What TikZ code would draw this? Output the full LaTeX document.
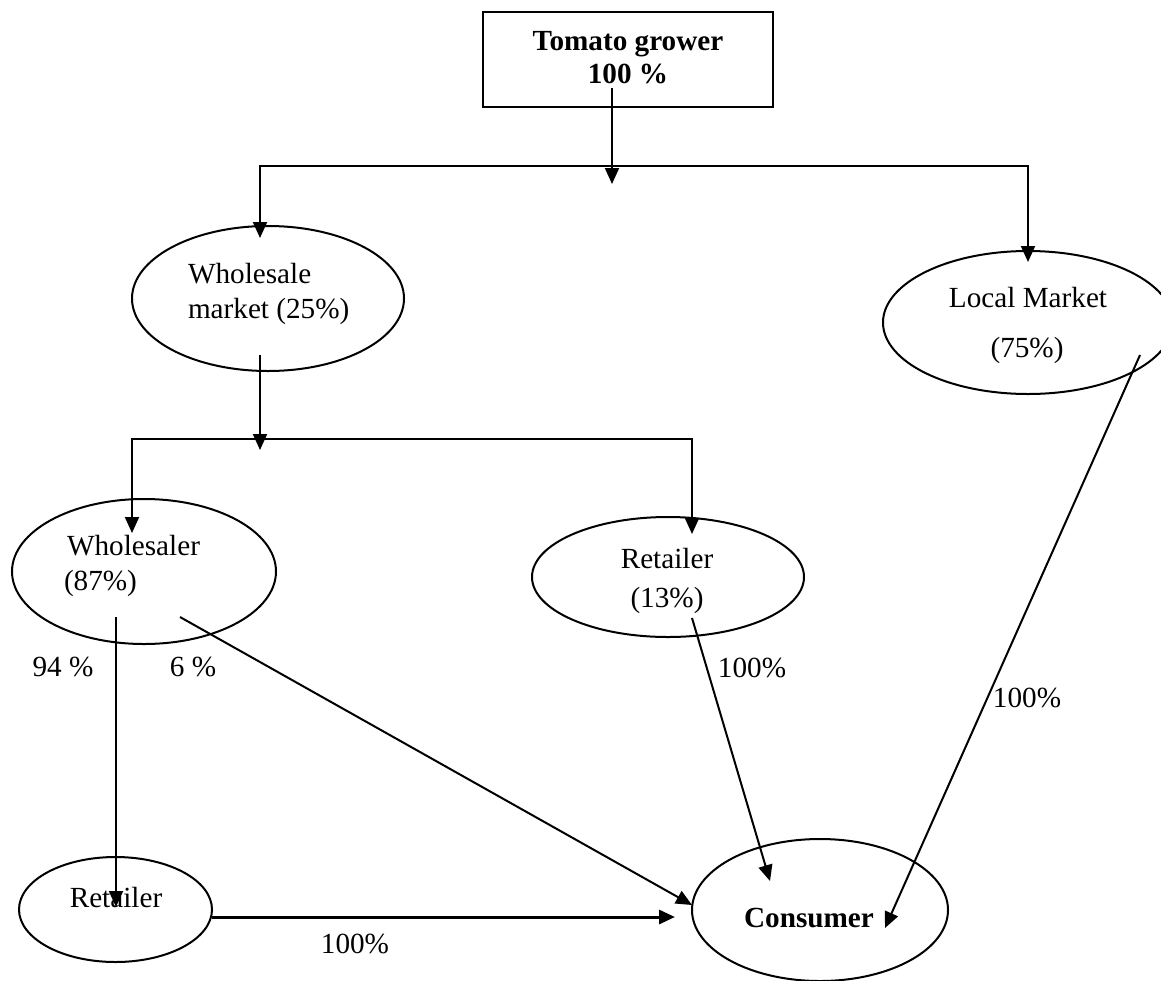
\documentclass[tikz,border=0pt]{standalone}
\usepackage{fontspec}
\setmainfont{Liberation Serif}
\usetikzlibrary{arrows.meta,shapes.geometric}
\begin{document}
\begin{tikzpicture}[x=0.5pt,y=-0.5pt,
  font=\fontsize{14.6pt}{17pt}\selectfont,
  line width=1pt,
  oval/.style={draw,ellipse,inner sep=0pt},
  box/.style={draw,rectangle,inner sep=0pt},
  txt/.style={inner sep=0pt,anchor=base},
  txtl/.style={inner sep=0pt,anchor=base west},
  arr/.style={-{Triangle[length=8pt,width=7pt]}},
  darr/.style={{Triangle[length=8pt,width=7pt]}-{Triangle[length=8pt,width=7pt]}},
]
\useasboundingbox (0,0) rectangle (1161,980);

% nodes
\node[box,minimum width=145pt,minimum height=47.5pt] (grower) at (628,59.5) {};
\node[txt] (growerA) at (628,50) {\bfseries Tomato grower};
\node[txt] (growerB) at (628,83) {\bfseries 100 \%};

\node[oval,minimum width=136pt,minimum height=72.5pt] (wm) at (268,298.5) {};
\node[txtl] (wmA) at (187,283) {Wholesale};
\node[txtl] (wmB) at (187,318) {market (25\%)};

\node[oval,minimum width=145pt,minimum height=71.5pt] (lm) at (1028,322.5) {};
\node[txt] (lmA) at (1028,307) {Local Market};
\node[txt] (lmB) at (1027,357) {(75\%)};

\node[oval,minimum width=132pt,minimum height=72.5pt] (wsr) at (144,571.5) {};
\node[txtl] (wsrA) at (66,555) {Wholesaler};
\node[txtl] (wsrB) at (63,590) {(87\%)};

\node[oval,minimum width=136pt,minimum height=60pt] (ret) at (668,577) {};
\node[txt] (retA) at (667,568) {Retailer};
\node[txt] (retB) at (667,607) {(13\%)};

\node[oval,minimum width=96.5pt,minimum height=52.5pt] (retb) at (115.5,909.5) {};
\node[txt] (retbA) at (116,907) {Retailer};

\node[oval,minimum width=128pt,minimum height=71pt] (cons) at (820,910) {};
\node[txt] (consA) at (809,927) {\bfseries Consumer};

% labels
\node[txt] (l94) at (63,676) {94 \%};
\node[txt] (l6) at (193,676) {6 \%};
\node[txt] (l100a) at (752,677) {100\%};
\node[txt] (l100b) at (1027,707) {100\%};
\node[txt] (l100c) at (355,953) {100\%};

% coordinates
\coordinate (g0) at (612,88);
\coordinate (g1) at (612,184);
\coordinate (wmtip) at (260,238);
\coordinate (j1L) at (260,166);
\coordinate (j1R) at (1028,166);
\coordinate (lmtip) at (1028,262);
\coordinate (wm0) at (260,355);
\coordinate (wm1) at (260,450);
\coordinate (wsrtip) at (132,533);
\coordinate (j2L) at (132,439);
\coordinate (j2R) at (692,439);
\coordinate (rettip) at (692,534);
\coordinate (wsr0) at (116,617);
\coordinate (retbtip) at (116,907);
\coordinate (wsr1) at (180,617);
\coordinate (cons1) at (692,905);
\coordinate (ret0) at (692,618);
\coordinate (cons2) at (770,881);
\coordinate (lm0) at (1140,355);
\coordinate (cons3) at (885,928);
\coordinate (retb0) at (212,917);
\coordinate (cons4) at (675,917);

% connectors
\draw[arr] (g0) -- (g1);
\draw[darr] (wmtip) -- (j1L) -- (j1R) -- (lmtip);
\draw[arr] (wm0) -- (wm1);
\draw[darr] (wsrtip) -- (j2L) -- (j2R) -- (rettip);
\draw[arr] (wsr0) -- (retbtip);
\draw[arr] (wsr1) -- (cons1);
\draw[arr] (ret0) -- (cons2);
\draw[arr] (lm0) -- (cons3);
\draw[arr,line width=1.5pt] (retb0) -- (cons4);
\end{tikzpicture}
\end{document}
